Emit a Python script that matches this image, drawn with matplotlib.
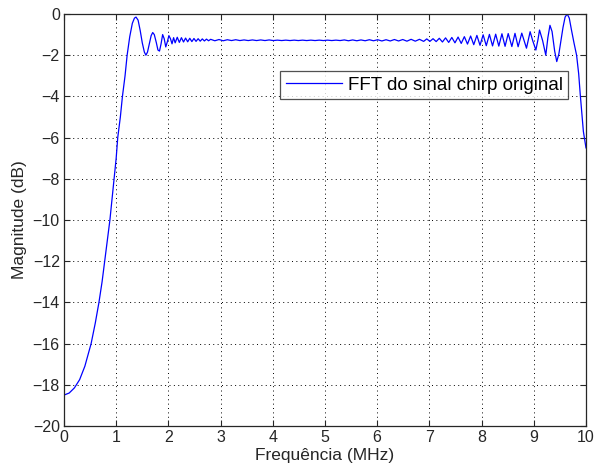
import matplotlib
matplotlib.use("Agg")
import matplotlib.pyplot as plt

# Spectrum of the original chirp signal (frequency in MHz, magnitude in dB)
freq_mhz = [
    0.00, 0.10, 0.20, 0.30, 0.40, 0.52, 0.60, 0.67, 0.73, 0.78, 0.83, 0.88,
    0.92, 0.96, 1.00, 1.03, 1.08, 1.12, 1.17, 1.21, 1.26, 1.31, 1.35, 1.38,
    1.42, 1.46, 1.50, 1.54, 1.57, 1.60, 1.64, 1.67, 1.70, 1.73, 1.77, 1.80,
    1.83, 1.86, 1.89, 1.92, 1.95, 1.98, 2.01, 2.04, 2.07, 2.10, 2.13, 2.17,
    2.21, 2.25, 2.29, 2.33, 2.37, 2.41, 2.45, 2.49, 2.53, 2.57, 2.61, 2.65,
    2.69, 2.73, 2.77,
    2.81, 2.89, 2.97, 3.05, 3.13, 3.21, 3.29, 3.37, 3.45, 3.53, 3.61, 3.69,
    3.77, 3.85, 3.93, 4.01, 4.09, 4.17, 4.25, 4.33, 4.41, 4.49, 4.57, 4.65,
    4.73, 4.81, 4.89, 4.97, 5.05, 5.13, 5.21, 5.29, 5.37, 5.45, 5.53, 5.61,
    5.69, 5.77, 5.85, 5.93, 6.01, 6.09, 6.17, 6.25, 6.33, 6.41, 6.49, 6.57,
    6.65, 6.73, 6.81, 6.89,
    6.95, 7.01, 7.07, 7.13, 7.19, 7.25, 7.31, 7.37, 7.43, 7.49, 7.55, 7.61,
    7.67, 7.73, 7.79, 7.85, 7.91, 7.97, 8.03, 8.09, 8.15, 8.21, 8.27, 8.33,
    8.39, 8.45, 8.51, 8.58, 8.64, 8.70, 8.77, 8.86, 8.93, 8.98, 9.04, 9.08,
    9.11, 9.17, 9.23, 9.27, 9.31, 9.35, 9.40, 9.44, 9.48, 9.52, 9.56, 9.60,
    9.64, 9.68, 9.72, 9.77, 9.82, 9.86, 9.89, 9.92, 9.95, 10.00,
]
mag_db = [
    -18.50, -18.40, -18.15, -17.75, -17.10, -16.00, -15.00, -14.00, -13.00, -12.00, -11.00, -10.00,
    -9.00, -8.00, -7.00, -6.00, -5.00, -4.00, -3.00, -2.00, -1.10, -0.45, -0.20, -0.15,
    -0.30, -0.80, -1.40, -1.85, -2.00, -1.85, -1.40, -1.05, -0.90, -1.00, -1.40, -1.75,
    -1.80, -1.45, -1.00, -1.20, -1.60, -1.35, -1.05, -1.20, -1.45, -1.15, -1.40, -1.13,
    -1.38, -1.15, -1.36, -1.17, -1.35, -1.18, -1.34, -1.19, -1.33, -1.20, -1.32, -1.21,
    -1.31, -1.22, -1.30,
    -1.23, -1.30, -1.24, -1.30, -1.25, -1.29, -1.25, -1.29, -1.26, -1.29, -1.26, -1.29,
    -1.26, -1.29, -1.26, -1.29, -1.27, -1.29, -1.27, -1.29, -1.27, -1.29, -1.27, -1.29,
    -1.27, -1.29, -1.27, -1.29, -1.27, -1.29, -1.27, -1.29, -1.26, -1.30, -1.26, -1.30,
    -1.26, -1.30, -1.25, -1.30, -1.25, -1.31, -1.25, -1.31, -1.24, -1.31, -1.24, -1.32,
    -1.23, -1.32, -1.23, -1.33,
    -1.21, -1.33, -1.20, -1.34, -1.18, -1.36, -1.16, -1.38, -1.14, -1.40, -1.12, -1.43,
    -1.10, -1.46, -1.07, -1.49, -1.04, -1.52, -1.01, -1.54, -0.99, -1.55, -0.98, -1.56,
    -0.96, -1.57, -0.95, -1.58, -0.94, -1.59, -0.93, -1.66, -0.86, -1.30, -1.75, -1.25,
    -0.78, -1.30, -2.00, -1.15, -0.55, -0.85, -1.80, -2.31, -1.95, -1.30, -0.65, -0.15,
    0.00, -0.20, -0.75, -1.40, -2.00, -2.90, -3.90, -4.80, -5.70, -6.50,
]

x_ticks = list(range(0, 11))
y_ticks = list(range(-20, 1, 2))
legend_label = "FFT do sinal chirp original"

plt.rcParams["font.family"] = ["Liberation Sans", "DejaVu Sans"]

fig = plt.figure(figsize=(5.94, 4.74), dpi=100, facecolor="white")
ax = fig.add_axes([0.1077, 0.1013, 0.8788, 0.8692])

ax.plot(freq_mhz, mag_db, color="#0000ff", linewidth=0.9, label=legend_label)

ax.set_xlim(0, 10)
ax.set_ylim(-20, 0)
ax.set_xticks(x_ticks)
ax.set_yticks(y_ticks)
ax.tick_params(direction="in", top=True, right=True, length=4, width=0.8,
               labelsize=11.5, colors="#262626", pad=3)
ax.grid(True, color="black", linestyle=(0, (1, 3.5)), linewidth=0.7)
for s in ax.spines.values():
    s.set_linewidth(0.9)
    s.set_color("#262626")

ax.set_xlabel("Frequência (MHz)", fontsize=12.5, color="#262626", labelpad=2)
ax.set_ylabel("Magnitude (dB)", fontsize=12.5, color="#262626", labelpad=4)

leg = ax.legend(loc="upper right", bbox_to_anchor=(0.966, 0.862), fontsize=13.5,
                frameon=True, fancybox=False, handlelength=3.0, handletextpad=0.3,
                borderpad=0.3, borderaxespad=0)
leg.get_frame().set_edgecolor("#262626")
leg.get_frame().set_linewidth(0.9)

fig.savefig("out.png", dpi=100, facecolor="white")
